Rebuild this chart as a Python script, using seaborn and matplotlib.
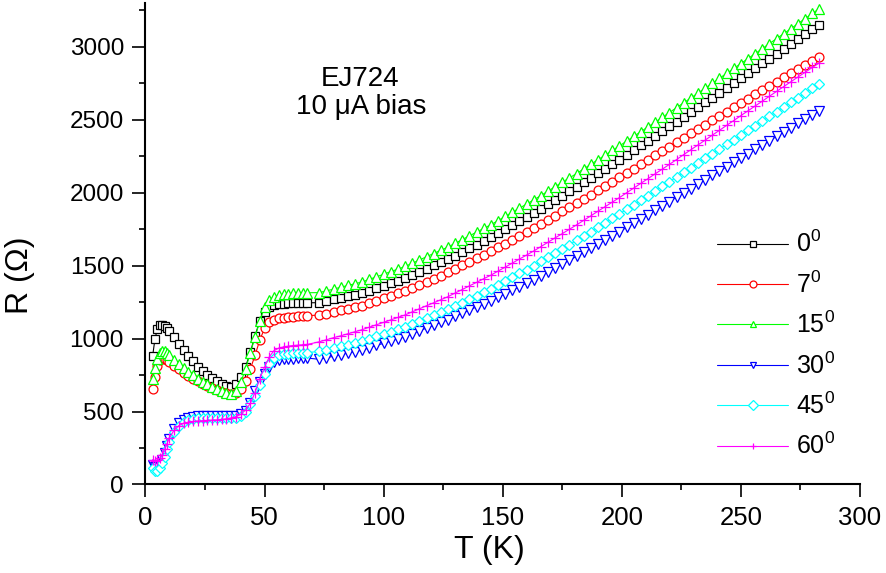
import numpy as np
import pandas as pd
import matplotlib
matplotlib.use('Agg')
import matplotlib.pyplot as plt
import seaborn as sns
from matplotlib.ticker import MultipleLocator

# temperaturas (K): trecho baixo e trecho alto (buraco entre 68 e 73 K)
T_low = [3, 4, 5, 6, 7, 8, 9, 10,
         12, 14, 16, 18, 20, 22, 24, 26, 28, 30, 32, 34, 36, 38, 40,
         42, 44, 46, 48, 50, 52, 54, 56, 58, 60, 62, 64, 66, 68]
T_high = [73, 76, 79, 82, 85, 88, 91,
          94, 97, 100, 103, 106, 109,
          112, 115, 118, 121, 124, 127,
          130, 133, 136, 139, 142, 145,
          148, 151, 154, 157, 160, 163,
          166, 169, 172, 175, 178, 181,
          184, 187, 190, 193, 196, 199,
          202, 205, 208, 211, 214, 217,
          220, 223, 226, 229, 232, 235,
          238, 241, 244, 247, 250, 253,
          256, 259, 262, 265, 268, 271,
          274, 277, 280, 283]

# resistencia (ohm) para cada angulo
r0_low = [880, 1000, 1065, 1090, 1095, 1088, 1072, 1055,
          1012, 965, 920, 880, 843, 808, 778, 752, 730, 710, 692, 678, 670, 688, 735,
          805, 905, 1020, 1120, 1185, 1218, 1232, 1238, 1240, 1241, 1242, 1243, 1244, 1245]
r7_low = [655, 740, 810, 850, 865, 862, 852, 840,
          815, 790, 767, 745, 725, 707, 690, 675, 661, 649, 637, 627, 620, 628, 655,
          710, 790, 885, 990, 1070, 1112, 1130, 1138, 1143, 1147, 1150, 1153, 1156, 1158]
r15_low = [720, 800, 860, 900, 915, 912, 900, 885,
           855, 825, 797, 771, 748, 726, 705, 686, 669, 654, 640, 628, 620, 642, 700,
           790, 900, 1010, 1120, 1215, 1265, 1288, 1298, 1303, 1306, 1309, 1311, 1313, 1314]
r30_low = [135, 120, 118, 135, 168, 215, 265, 310,
           378, 420, 445, 458, 464, 466, 467, 467, 467, 466, 466, 466, 467, 470, 480,
           505, 560, 640, 705, 760, 805, 840, 852, 857, 860, 862, 864, 865, 866]
r45_low = [110, 95, 92, 110, 145, 190, 240, 288,
           358, 403, 430, 443, 450, 453, 454, 454, 454, 453, 453, 453, 454, 457, 466,
           495, 550, 605, 680, 755, 825, 870, 885, 891, 895, 898, 900, 902, 904]
r60_low = [170, 162, 165, 180, 205, 240, 280, 318,
           372, 403, 418, 427, 432, 435, 437, 439, 441, 443, 446, 450, 456, 465, 480,
           510, 555, 630, 725, 805, 875, 918, 935, 943, 948, 952, 955, 957, 960]

r0_high = [1246, 1257, 1268, 1279, 1290, 1301, 1312,
           1329, 1346, 1363, 1380, 1397, 1414,
           1436, 1457, 1479, 1501, 1522, 1544,
           1569, 1594, 1619, 1644, 1669, 1694,
           1722, 1750, 1777, 1805, 1833, 1861,
           1891, 1921, 1951, 1980, 2010, 2040,
           2071, 2102, 2134, 2165, 2196, 2227,
           2259, 2292, 2324, 2356, 2389, 2421,
           2454, 2487, 2520, 2553, 2586, 2619,
           2652, 2686, 2719, 2752, 2786, 2819,
           2852, 2886, 2919, 2952, 2986, 3019,
           3052, 3086, 3119, 3152]
r7_high = [1160, 1171, 1182, 1193, 1204, 1215, 1226,
           1243, 1259, 1276, 1293, 1309, 1326,
           1347, 1368, 1390, 1411, 1432, 1453,
           1477, 1501, 1526, 1550, 1574, 1598,
           1625, 1651, 1678, 1705, 1731, 1758,
           1786, 1815, 1843, 1871, 1900, 1928,
           1958, 1987, 2017, 2046, 2076, 2105,
           2135, 2165, 2196, 2226, 2256, 2286,
           2316, 2346, 2376, 2406, 2436, 2466,
           2496, 2525, 2555, 2585, 2614, 2644,
           2673, 2702, 2732, 2761, 2790, 2819,
           2847, 2875, 2904, 2932]
r15_high = [1315, 1327, 1339, 1352, 1364, 1376, 1388,
            1406, 1423, 1441, 1459, 1476, 1494,
            1516, 1538, 1561, 1583, 1605, 1627,
            1653, 1678, 1704, 1729, 1755, 1780,
            1808, 1837, 1865, 1893, 1922, 1950,
            1980, 2010, 2041, 2071, 2101, 2131,
            2163, 2194, 2226, 2257, 2289, 2320,
            2353, 2385, 2418, 2451, 2483, 2516,
            2549, 2583, 2616, 2649, 2683, 2716,
            2750, 2784, 2817, 2851, 2885, 2919,
            2953, 2987, 3022, 3056, 3090, 3124,
            3159, 3193, 3228, 3262]
r30_high = [858, 869, 879, 890, 901, 911, 922,
            937, 953, 968, 983, 999, 1014,
            1033, 1053, 1072, 1091, 1111, 1130,
            1152, 1173, 1195, 1217, 1238, 1260,
            1284, 1308, 1332, 1356, 1380, 1404,
            1431, 1457, 1484, 1510, 1537, 1563,
            1591, 1619, 1648, 1676, 1704, 1732,
            1762, 1791, 1821, 1850, 1880, 1909,
            1939, 1969, 1999, 2028, 2058, 2088,
            2118, 2148, 2178, 2207, 2237, 2267,
            2297, 2326, 2356, 2385, 2415, 2444,
            2474, 2503, 2533, 2562]
r45_high = [912, 924, 936, 948, 959, 971, 983,
            999, 1015, 1032, 1048, 1064, 1080,
            1100, 1120, 1140, 1160, 1180, 1200,
            1223, 1247, 1270, 1293, 1317, 1340,
            1367, 1393, 1420, 1447, 1473, 1500,
            1529, 1558, 1587, 1615, 1644, 1673,
            1703, 1733, 1764, 1794, 1824, 1854,
            1886, 1917, 1949, 1980, 2012, 2043,
            2075, 2107, 2139, 2171, 2203, 2235,
            2267, 2299, 2331, 2363, 2395, 2427,
            2459, 2491, 2523, 2555, 2587, 2619,
            2651, 2683, 2715, 2747]
r60_high = [978, 992, 1006, 1019, 1033, 1047, 1061,
            1078, 1095, 1111, 1128, 1145, 1162,
            1183, 1204, 1225, 1245, 1266, 1287,
            1312, 1336, 1361, 1385, 1410, 1434,
            1462, 1489, 1517, 1545, 1572, 1600,
            1630, 1660, 1690, 1719, 1749, 1779,
            1810, 1841, 1873, 1904, 1935, 1966,
            1999, 2031, 2064, 2096, 2129, 2161,
            2194, 2227, 2261, 2294, 2327, 2360,
            2394, 2427, 2461, 2494, 2528, 2561,
            2594, 2627, 2661, 2694, 2727, 2760,
            2793, 2825, 2858, 2890]

angulos = ['0', '7', '15', '30', '45', '60']
series_low = [r0_low, r7_low, r15_low, r30_low, r45_low, r60_low]
series_high = [r0_high, r7_high, r15_high, r30_high, r45_high, r60_high]

# estilo tipo Origin
cores = ['#000000', '#FF0000', '#00FF00', '#0000FF', '#00FFFF', '#FF00FF']
marcadores = ['s', 'o', '^', 'v', 'D', '+']
tamanhos = [6.2, 6.4, 6.8, 6.8, 4.7, 7.0]

sns.set_theme(style='ticks', rc={'axes.edgecolor': 'black', 'xtick.color': 'black',
                                 'ytick.color': 'black', 'text.color': 'black',
                                 'axes.labelcolor': 'black'})
plt.rcParams['font.family'] = ['Liberation Sans', 'DejaVu Sans']
plt.rcParams['mathtext.default'] = 'regular'

fig = plt.figure(figsize=(8.86, 5.73), dpi=100)
ax = fig.add_axes([0.1642, 0.1545, 0.8064, 0.8403])

T = T_low + T_high
for ang, cor, mk, ms, lo, hi in zip(angulos, cores, marcadores, tamanhos, series_low, series_high):
    df = pd.DataFrame({'T': T, 'R': lo + hi})
    sns.lineplot(data=df, x='T', y='R', ax=ax, color=cor, marker=mk, markersize=ms,
                 markerfacecolor='white', markeredgecolor=cor, markeredgewidth=0.9,
                 linewidth=0.8, estimator=None, sort=False, label=f'{ang}$^0$')

ax.set_xlim(0, 300)
ax.set_ylim(0, 3300)
ax.xaxis.set_major_locator(MultipleLocator(50))
ax.xaxis.set_minor_locator(MultipleLocator(25))
ax.yaxis.set_major_locator(MultipleLocator(500))
ax.yaxis.set_minor_locator(MultipleLocator(250))

sns.despine(ax=ax)
for s in ['left', 'bottom']:
    ax.spines[s].set_linewidth(1.5)
ax.tick_params(which='major', direction='out', length=9.5, width=1.2, pad=6)
ax.tick_params(which='minor', direction='out', length=4.5, width=1.2)
ax.tick_params(axis='x', which='major', labelsize=18.5)
ax.tick_params(axis='y', which='major', labelsize=17.5)

ax.set_xlabel('T (K)', fontsize=23)
ax.set_ylabel('R (Ω)', fontsize=23)
ax.xaxis.set_label_coords(0.482, -0.105)
ax.yaxis.set_label_coords(-0.155, 0.435)

ax.text(0.300, 0.842, 'EJ724', transform=ax.transAxes, ha='center', va='center', fontsize=20)
ax.text(0.302, 0.784, '10 μA bias', transform=ax.transAxes, ha='center', va='center', fontsize=20)

leg = ax.legend(loc='upper left', bbox_to_anchor=(717 / 886, 1 - 231 / 573), bbox_transform=fig.transFigure,
                frameon=False, fontsize=18, handlelength=2.84, handletextpad=0.33, labelspacing=0.56,
                borderpad=0, borderaxespad=0, numpoints=1)
for h in leg.legend_handles:
    h.set_markersize(5.0)

fig.savefig('out.png', dpi=100, facecolor='white')
